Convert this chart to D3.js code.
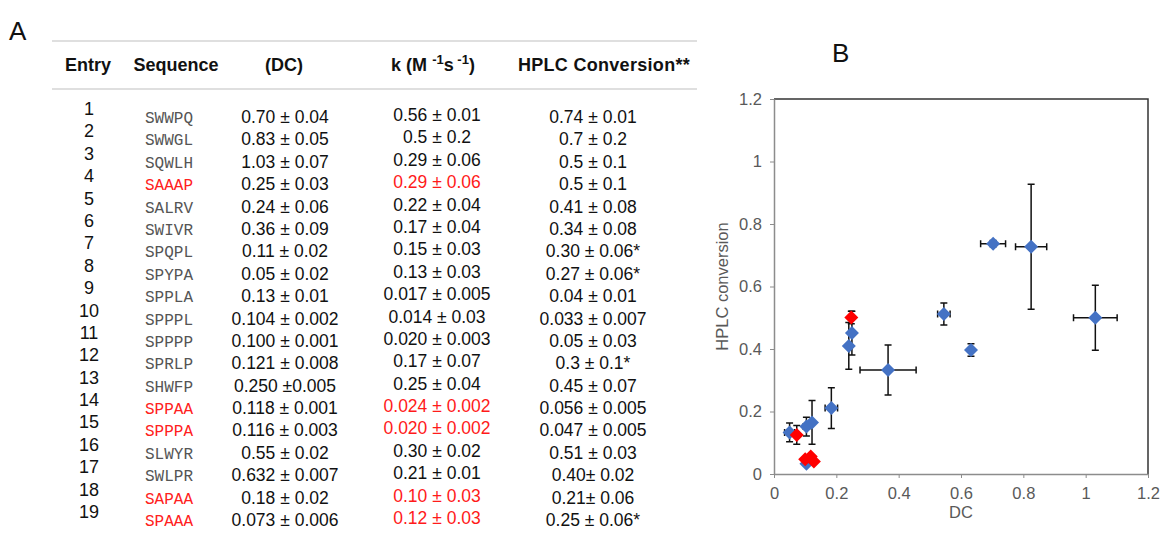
<!DOCTYPE html>
<html>
<head>
<meta charset="utf-8">
<script src="https://cdn.jsdelivr.net/npm/d3@7"></script>
<style>
  body { margin: 0; background: #fff; }
  svg { display: block; font-family: "Liberation Sans", Arial, sans-serif; }
</style>
</head>
<body>
<div id="figure"></div>
<script>
// Table (panel A)
var entries = [1, 2, 3, 4, 5, 6, 7, 8, 9, 10, 11, 12, 13, 14, 15, 16, 17, 18, 19];
var sequences = ["SWWPQ", "SWWGL", "SQWLH", "SAAAP", "SALRV", "SWIVR", "SPQPL", "SPYPA", "SPPLA", "SPPPL",
  "SPPPP", "SPRLP", "SHWFP", "SPPAA", "SPPPA", "SLWYR", "SWLPR", "SAPAA", "SPAAA"];
var dcText = ["0.70 ± 0.04", "0.83 ± 0.05", "1.03 ± 0.07", "0.25 ± 0.03", "0.24 ± 0.06", "0.36 ± 0.09",
  "0.11 ± 0.02", "0.05 ± 0.02", "0.13 ± 0.01", "0.104 ± 0.002", "0.100 ± 0.001", "0.121 ± 0.008",
  "0.250 ±0.005", "0.118 ± 0.001", "0.116 ± 0.003", "0.55 ± 0.02", "0.632 ± 0.007", "0.18 ± 0.02",
  "0.073 ± 0.006"];
var kText = ["0.56 ± 0.01", "0.5 ± 0.2", "0.29 ± 0.06", "0.29 ± 0.06", "0.22 ± 0.04", "0.17 ± 0.04",
  "0.15 ± 0.03", "0.13 ± 0.03", "0.017 ± 0.005", "0.014 ± 0.03", "0.020 ± 0.003", "0.17 ± 0.07",
  "0.25 ± 0.04", "0.024 ± 0.002", "0.020 ± 0.002", "0.30 ± 0.02", "0.21 ± 0.01", "0.10 ± 0.03",
  "0.12 ± 0.03"];
var hplcText = ["0.74 ± 0.01", "0.7 ± 0.2", "0.5 ± 0.1", "0.5 ± 0.1", "0.41 ± 0.08", "0.34 ± 0.08",
  "0.30 ± 0.06*", "0.27 ± 0.06*", "0.04 ± 0.01", "0.033 ± 0.007", "0.05 ± 0.03", "0.3 ± 0.1*",
  "0.45 ± 0.07", "0.056 ± 0.005", "0.047 ± 0.005", "0.51 ± 0.03", "0.40± 0.02", "0.21± 0.06",
  "0.25 ± 0.06*"];
var redSequence = [4, 14, 15, 18, 19];
var redK = [4, 14, 15, 18, 19];

// Scatter (panel B): DC vs HPLC conversion, with errors
var plotDC      = [0.703, 0.825, 1.031, 0.24, 0.25, 0.366, 0.104, 0.05, 0.122, 0.104, 0.545, 0.632, 0.184, 0.248, 0.073, 0.100, 0.118, 0.128];
var plotDCErr   = [0.04, 0.05, 0.07, 0.005, 0.005, 0.09, 0.01, 0.016, 0.005, 0.002, 0.02, 0.007, 0.02, 0.005, 0.006, 0.001, 0.001, 0.003];
var plotHPLC    = [0.737, 0.727, 0.50, 0.41, 0.451, 0.333, 0.152, 0.133, 0.165, 0.033, 0.512, 0.397, 0.211, 0.501, 0.125, 0.047, 0.056, 0.04];
var plotHPLCErr = [0.01, 0.20, 0.104, 0.075, 0.07, 0.08, 0.03, 0.03, 0.07, 0.007, 0.035, 0.02, 0.065, 0.02, 0.03, 0.005, 0.005, 0.005];
var plotGroup   = ["b", "b", "b", "b", "b", "b", "b", "b", "b", "b", "b", "b", "b", "r", "r", "r", "r", "r"];
var axisTicks = [0, 0.2, 0.4, 0.6, 0.8, 1, 1.2];

var width = 1162, height = 533;
var svg = d3.select("#figure").append("svg")
  .attr("width", width)
  .attr("height", height);
svg.append("rect").attr("width", width).attr("height", height).attr("fill", "#fff");

// ---------- Panel A ----------
svg.append("text").attr("x", 9).attr("y", 40)
  .style("font-size", "26px").attr("fill", "#111").text("A");

var tbl = svg.append("g");
var colEntry = 89, colSeq = 145, colDC = 285, colK = 437, colH = 593;
var rowY = d3.scaleLinear().domain([1, 19]).range([123, 526]);

tbl.selectAll("line.rule")
  .data([41, 89])
  .enter().append("line")
  .attr("class", "rule")
  .attr("x1", 52).attr("x2", 697)
  .attr("y1", function(d) { return d; }).attr("y2", function(d) { return d; })
  .attr("stroke", "#d4d4d4").attr("stroke-width", 1.5);

var head = tbl.append("g").style("font-size", "18px").style("font-weight", "bold")
  .attr("fill", "#111").attr("text-anchor", "middle");
head.append("text").attr("x", 88).attr("y", 71).text("Entry");
head.append("text").attr("x", 176).attr("y", 71).text("Sequence");
head.append("text").attr("x", 284).attr("y", 71).text("(DC)");
var kh = head.append("text").attr("x", 433).attr("y", 71);
kh.append("tspan").text("k (M ");
kh.append("tspan").attr("dy", -7).style("font-size", "13px").text("-1");
kh.append("tspan").attr("dy", 7).text("s");
kh.append("tspan").attr("dy", -7).style("font-size", "13px").text(" -1");
kh.append("tspan").attr("dy", 7).text(")");
head.append("text").attr("x", 604).attr("y", 71).style("letter-spacing", "0.3px").text("HPLC Conversion**");

var rows = tbl.selectAll("g.row")
  .data(entries)
  .enter().append("g")
  .attr("class", "row")
  .attr("transform", function(d) { return "translate(0," + rowY(d) + ")"; });

rows.append("text")
  .attr("x", colEntry).attr("y", -8).attr("text-anchor", "middle")
  .style("font-size", "18px").attr("fill", "#111")
  .text(function(d) { return d; });

rows.append("text")
  .attr("x", colSeq).attr("y", 0)
  .style("font-family", "'Liberation Mono', 'Courier New', monospace").style("font-size", "16px")
  .attr("fill", function(d) { return redSequence.indexOf(d) >= 0 ? "#ff2020" : "#555"; })
  .text(function(d, i) { return sequences[i]; });

rows.append("text")
  .attr("x", colDC).attr("y", 0).attr("text-anchor", "middle")
  .style("font-size", "17.5px").attr("fill", "#111")
  .text(function(d, i) { return dcText[i]; });

rows.append("text")
  .attr("x", colK).attr("y", -2).attr("text-anchor", "middle")
  .style("font-size", "17.5px")
  .attr("fill", function(d) { return redK.indexOf(d) >= 0 ? "#ff1a1a" : "#111"; })
  .text(function(d, i) { return kText[i]; });

rows.append("text")
  .attr("x", colH).attr("y", 0).attr("text-anchor", "middle")
  .style("font-size", "17.5px").attr("fill", "#111")
  .text(function(d, i) { return hplcText[i]; });

// ---------- Panel B ----------
svg.append("text").attr("x", 832).attr("y", 62)
  .style("font-size", "26px").attr("fill", "#111").text("B");

var x = d3.scaleLinear().domain([0, 1.2]).range([774, 1148]);
var y = d3.scaleLinear().domain([0, 1.2]).range([474, 99]);
var fmt = function(d) { return d3.format("~g")(d); };

var plot = svg.append("g");

// frame: top and right edges
plot.append("path")
  .attr("d", "M" + x(0) + "," + y(1.2) + "H" + x(1.2) + "V" + y(0))
  .attr("fill", "none").attr("stroke", "#333").attr("stroke-width", 1.5);

var yAxis = plot.append("g")
  .attr("transform", "translate(" + x(0) + ",0)")
  .call(d3.axisLeft(y).tickValues(axisTicks).tickFormat(fmt).tickSize(4).tickSizeOuter(0).tickPadding(8));
var xAxis = plot.append("g")
  .attr("transform", "translate(0," + y(0) + ")")
  .call(d3.axisBottom(x).tickValues(axisTicks).tickFormat(fmt).tickSize(4).tickSizeOuter(0).tickPadding(9));

[xAxis, yAxis].forEach(function(a) {
  a.select(".domain").attr("stroke", "#8c8c8c").attr("stroke-width", 1.5);
  a.selectAll(".tick line").attr("stroke", "#8c8c8c");
  a.selectAll(".tick text").attr("fill", "#595959")
    .style("font-size", "16.5px").style("font-family", "'Liberation Sans', Arial, sans-serif");
});

plot.append("text")
  .attr("x", (x(0) + x(1.2)) / 2).attr("y", 518)
  .attr("text-anchor", "middle").attr("fill", "#595959").style("font-size", "16.5px")
  .text("DC");
plot.append("text")
  .attr("transform", "translate(728," + ((y(0) + y(1.2)) / 2) + ") rotate(-90)")
  .attr("text-anchor", "middle").attr("fill", "#595959").style("font-size", "16.5px")
  .text("HPLC conversion");

var pts = plotDC.map(function(d, i) {
  return { dc: d, dce: plotDCErr[i], h: plotHPLC[i], he: plotHPLCErr[i], g: plotGroup[i] };
});

var cap = 3.5;
var bars = plot.append("g").attr("stroke", "#111").attr("stroke-width", 1.5).attr("fill", "none");
pts.forEach(function(p) {
  var cx = x(p.dc), cy = y(p.h);
  var x0 = x(p.dc - p.dce), x1 = x(p.dc + p.dce);
  var y0 = y(p.h - p.he), y1 = y(p.h + p.he);
  bars.append("path").attr("d",
    "M" + x0 + "," + cy + "H" + x1 +
    "M" + x0 + "," + (cy - cap) + "V" + (cy + cap) +
    "M" + x1 + "," + (cy - cap) + "V" + (cy + cap) +
    "M" + cx + "," + y0 + "V" + y1 +
    "M" + (cx - cap) + "," + y0 + "H" + (cx + cap) +
    "M" + (cx - cap) + "," + y1 + "H" + (cx + cap));
});

var diamond = "M0,-7L7,0L0,7L-7,0Z";
["b", "r"].forEach(function(g) {
  plot.append("g").selectAll("path")
    .data(pts.filter(function(p) { return p.g === g; }))
    .enter().append("path")
    .attr("d", diamond)
    .attr("transform", function(p) { return "translate(" + x(p.dc) + "," + y(p.h) + ")"; })
    .attr("fill", g === "b" ? "#4472c4" : "#ff0000");
});
</script>
</body>
</html>
